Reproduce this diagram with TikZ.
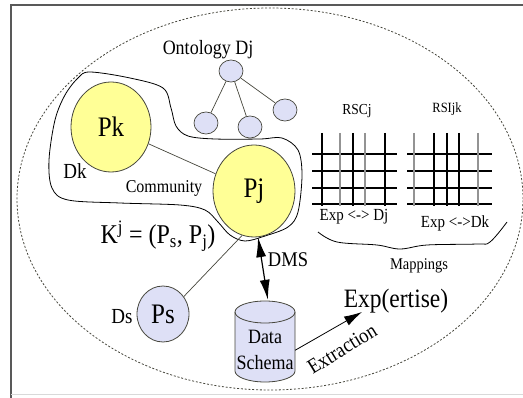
\documentclass[tikz,border=0pt]{standalone}
\usepackage{fontspec}
\usepackage{graphicx}
\setmainfont{Liberation Serif}
\newfontfamily\tms{Liberation Serif}
\newcommand{\vst}[1]{\scalebox{1}[1.13]{#1}}
\usetikzlibrary{shapes.geometric,arrows.meta}
\definecolor{pyellow}{RGB}{255,255,150}
\definecolor{plav}{RGB}{222,224,246}
\definecolor{edge}{RGB}{70,70,60}
\begin{document}
\begin{tikzpicture}[x=1pt,y=-1pt,
  peer/.style={ellipse,draw=edge,line width=0.8pt,fill=pyellow,inner sep=0pt,font=\tms\fontsize{25}{28}\selectfont},
  small/.style={ellipse,draw=edge,line width=0.7pt,fill=plav,inner sep=0pt,minimum width=24pt,minimum height=22pt},
  lbl/.style={inner sep=0pt,font=\tms\fontsize{#1}{#1}\selectfont},
  lbl/.default=17,
  link/.style={draw=edge,line width=0.7pt},
  gridk/.style={line width=1.3pt,black},
  gridg/.style={line width=1.6pt,gray!85},
  bigtip/.style={-{Latex[length=18pt,width=10pt]}}
]
\useasboundingbox (0,0) rectangle (523,398);
% frame
\draw[gray!70!black,line width=1.2pt] (11,398) -- (11,5) -- (523,5);
\draw[gray!30,line width=1pt] (11,395) -- (523,395);
% dashed ellipse
\draw[edge,line width=0.8pt,dash pattern=on 2pt off 1.8pt] (270,199) ellipse[x radius=253pt,y radius=191pt];
% community outline
\draw[black,line width=0.8pt] plot[smooth cycle,tension=0.55] coordinates {
 (90,72) (130,78) (163,88) (171,108) (176,126) (188,136) (215,139) (260,139)
 (282,138) (298,150) (302,175) (298,212) (288,227) (265,236) (245,241) (230,235)
 (218,222) (205,210) (180,205) (120,203) (68,200) (52,188) (49,160) (55,120)
 (65,95) (78,78)};
% ontology tree
\node[small] (o0) at (231,71) {};
\node[small] (o1) at (206,123) {};
\node[small] (o2) at (250,127) {};
\node[small] (o3) at (285,110) {};
\draw[link] (o0) -- (o1);
\draw[link] (o0) -- (o2);
\draw[link] (o0) -- (o3);
\node[lbl=18] (ontl) at (208,50) {\vst{Ontology Dj}};
% peers
\node[peer,minimum width=80pt,minimum height=90pt] (pk) at (111,127) {\vst{Pk}};
\node[peer,minimum width=82pt,minimum height=92pt] (pj) at (254,191) {\vst{Pj}};
\node[peer,fill=plav,minimum width=52pt,minimum height=56pt] (ps) at (163,314) {\vst{Ps}};
\draw[link] (pk) -- (pj);
\draw[link] (ps.40) -- (pj.-105);
\node[lbl=19] (dk) at (75,171) {\vst{Dk}};
\node[lbl=16] (comm) at (164,188) {\vst{Community}};
\node[lbl=19] (ds) at (122,317) {\vst{Ds}};
\node[lbl=24] (kj) at (158,236) {\vst{K\textsuperscript{j} = (P\textsubscript{s}, P\textsubscript{j})}};
% data schema cylinder
\node[minimum width=60pt,minimum height=82pt,inner sep=0pt] (db) at (265,341) {};
\filldraw[fill=plav,draw=edge,line width=0.8pt] (235,312) -- (235,371)
  arc[start angle=180,end angle=360,x radius=30pt,y radius=11pt] -- (295,312)
  arc[start angle=0,end angle=180,x radius=30pt,y radius=11pt] -- cycle;
\draw[edge,line width=0.8pt] (235,312) arc[start angle=180,end angle=360,x radius=30pt,y radius=11pt];
\node[lbl=18] (data) at (265,337) {\vst{Data}};
\node[lbl=18] (schema) at (265,363) {\vst{Schema}};
% DMS arrow
\draw[line width=1.2pt,{Latex[length=20pt,width=10pt]}-{Latex[length=20pt,width=10pt]}] (pj.-85) -- (db.86);
\node[lbl=18.5] (dms) at (288,260) {\vst{DMS}};
% extraction
\coordinate (xtip) at (362,312);
\draw[line width=0.8pt,bigtip] (db.-17) -- (xtip);
\node[lbl=18.5,rotate=31.6] (extr) at (342,349) {\vst{Extraction}};
\node[lbl=23.5] (exp) at (396,301) {\vst{Exp(ertise)}};
% grids
\foreach \yy in {154,171,188,204} {
  \draw[gridk] (312,\yy) -- (397,\yy);
  \draw[gridk] (407,\yy) -- (492,\yy);
}
\foreach \xx/\st in {322/gridk,340/gridg,353/gridk,365/gridg,385/gridk,
                     414/gridg,434/gridk,447/gridk,459/gridk,478/gridg} {
  \draw[\st] (\xx,133) -- (\xx,206);
}
\node[lbl=13.5] (rscj) at (357,111) {\vst{RSCj}};
\node[lbl=12.5] (rsijk) at (447,109) {\vst{RSIjk}};
\node[lbl=15] (m1) at (354,217) {\vst{Exp <-> Dj}};
\node[lbl=15] (m2) at (455,223) {\vst{Exp <->Dk}};
\draw[black,line width=0.8pt] plot[smooth,tension=0.6] coordinates {
 (318,232) (337,242) (377,245) (400,249) (427,245) (477,244) (490,242) (507,222)};
\node[lbl=14.5] (map) at (419,266) {\vst{Mappings}};
\end{tikzpicture}
\end{document}
